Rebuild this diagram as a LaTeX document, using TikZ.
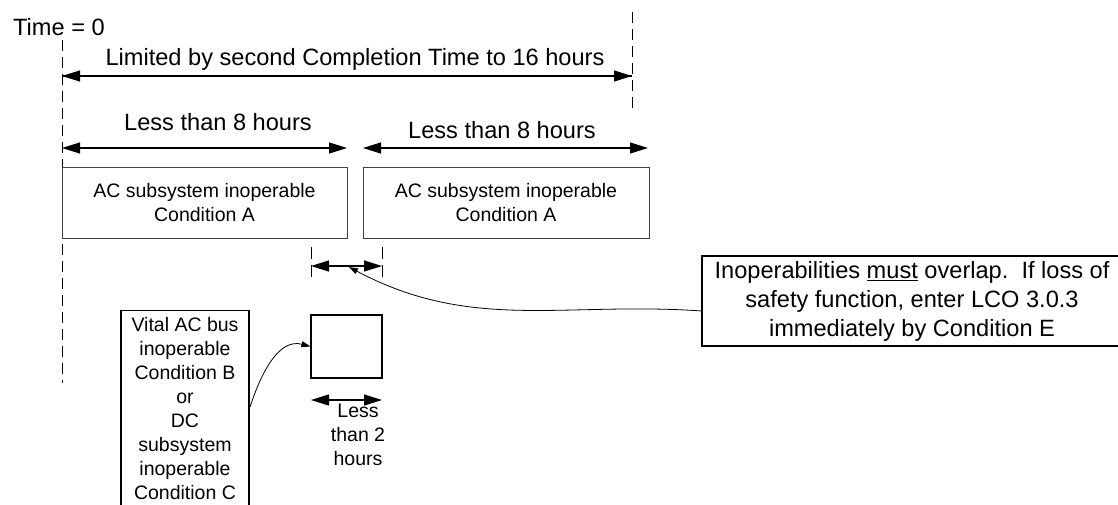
\documentclass[tikz,border=0pt]{standalone}
\usepackage{fontspec}
\setmainfont{Liberation Sans}
\usetikzlibrary{arrows.meta}

\tikzset{
  bigtxt/.style={font=\fontsize{23.6}{29}\selectfont},
  smalltxt/.style={font=\fontsize{19.5}{24}\selectfont},
  acbox/.style={draw=black!75, line width=0.8pt, smalltxt, align=center,
    minimum height=71, inner sep=0pt},
  dimarrow/.style={line width=1.3pt,
    {Triangle[length=18pt,width=11pt]}-{Triangle[length=18pt,width=11pt]}},
  onearrow/.style={line width=1.3pt, -{Triangle[length=18pt,width=11pt]}},
  bkarrow/.style={line width=1.3pt, {Triangle[length=18pt,width=11pt]}-},
  curvearrow/.style={line width=0.8pt, -{Triangle[length=9pt,width=6pt]}},
  timeline/.style={line width=1pt, dash pattern=on 11pt off 6pt},
}

\begin{document}
\begin{tikzpicture}[x=1pt,y=-1pt]
      \clip (0,0) rectangle (1118,504);

      \node[bigtxt, anchor=base west, inner sep=0pt] (T0) at (13, 35) {Time = 0};
      \node[bigtxt, anchor=base]      (LIM) at (355, 65) {Limited by second Completion Time to 16 hours};
      \node[bigtxt, anchor=base]      (L8a) at (218, 130) {Less than 8 hours};
      \node[bigtxt, anchor=base]      (L8b) at (502, 138) {Less than 8 hours};

      % time lines
      \coordinate (Z0) at (62, 40);
      \coordinate (Z1) at (62, 383);
      \coordinate (E0) at (632, 12);
      \coordinate (E1) at (632, 112);
      \draw[timeline] (Z0) -- (Z1) (E0) -- (E1);

      \coordinate (TA) at (62, 76);
      \coordinate (TB) at (632, 76);
      \draw[bkarrow] (TA) -- (TB);
      \draw[onearrow] (TA) -- (TB);

      \coordinate (LA) at (62, 148);
      \coordinate (LB) at (347, 148);
      \coordinate (RA) at (363, 148);
      \coordinate (RB) at (648, 148);
      \draw[dimarrow] (LA) -- (LB);
      \draw[dimarrow] (RA) -- (RB);

      \node[acbox, minimum width=285] (A1) at (204.5, 202.5) {AC subsystem inoperable\\Condition A};
      \node[acbox, minimum width=286] (A2) at (506, 202.5)   {AC subsystem inoperable\\Condition A};

      % overlap
      \coordinate (O1a) at (311, 247);
      \coordinate (O1b) at (311, 278);
      \coordinate (O2a) at (382, 247);
      \coordinate (O2b) at (382, 278);
      \draw[line width=1pt, dash pattern=on 12pt off 6pt] (O1a) -- (O1b) (O2a) -- (O2b);
      \coordinate (OA) at (311, 266);
      \coordinate (OB) at (382, 266);
      \draw[dimarrow] (OA) -- (OB);
      \coordinate (OV) at (349, 267);

      \node[draw, line width=1.2pt, minimum width=71, minimum height=63, inner sep=0pt] (SQ) at (346.5, 346.5) {};
      \coordinate (SA) at (311, 400);
      \coordinate (SB) at (382, 400);
      \draw[dimarrow] (SA) -- (SB);
      \node[smalltxt, align=center] (L2) at (358, 435) {Less\\than 2\\hours};

      \node[draw, line width=1.2pt, smalltxt, align=center, anchor=north,
            minimum width=128, inner xsep=2pt, inner ysep=7pt] (VB) at (185, 310)
            {Vital AC bus\\inoperable\\Condition B\\or\\DC\\subsystem\\inoperable\\Condition C};

      \node[draw, line width=1.2pt, bigtxt, align=center, minimum width=420,
            minimum height=90, inner sep=0pt] (NB) at (912, 301)
            {Inoperabilities \underline{must} overlap.\ \ If loss of\\safety function, enter LCO 3.0.3\\immediately by Condition E};

      \coordinate (V1) at (250, 407);
      \coordinate (N1) at (702, 311);
      \draw[curvearrow] (V1) to[out=72,in=165] (SQ.west);
      \draw[curvearrow] (N1) to[out=176,in=-28] (OV);
    \end{tikzpicture}
\end{document}
